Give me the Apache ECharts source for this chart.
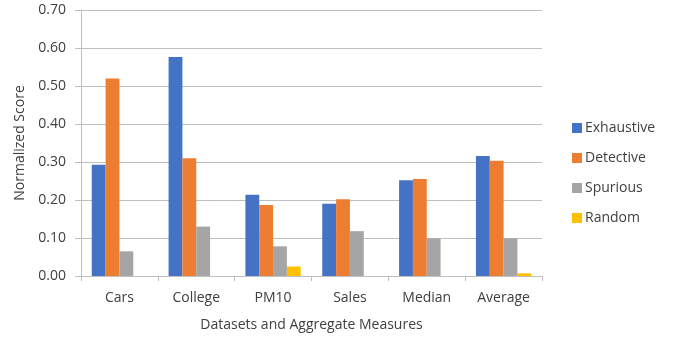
<!DOCTYPE html>
<html>
<head>
<meta charset="utf-8">
<script src="https://cdn.jsdelivr.net/npm/echarts@6/dist/echarts.min.js"></script>
<style>
  html, body { margin: 0; padding: 0; background: #fff; }
  #chart { width: 683px; height: 337px; }
</style>
</head>
<body>
<div id="chart"></div>
<script>
// Normalized scores per dataset, plus the aggregate measures
const categories = ['Cars', 'College', 'PM10', 'Sales', 'Median', 'Average'];
const exhaustive = [0.293, 0.576, 0.214, 0.190, 0.252, 0.316];
const detective  = [0.520, 0.310, 0.187, 0.202, 0.255, 0.303];
const spurious   = [0.065, 0.130, 0.078, 0.118, 0.099, 0.099];
const random     = [0.000, 0.000, 0.025, 0.000, 0.000, 0.007];

const seriesNames  = ['Exhaustive', 'Detective', 'Spurious', 'Random'];
const seriesValues = [exhaustive, detective, spurious, random];
const seriesColors = ['#4472C4', '#ED7D31', '#A5A5A5', '#FFC000'];

const FONT = 'Open Sans';
const TEXT = '#404040';

const chart = echarts.init(document.getElementById('chart'), null, { renderer: 'canvas' });

chart.setOption({
  animation: false,
  textStyle: { fontFamily: FONT },
  grid: { left: 81, right: 141, top: 10, bottom: 61, containLabel: false },
  legend: {
    orient: 'vertical',
    left: 567,
    top: 116,
    itemWidth: 10,
    itemHeight: 10,
    itemGap: 16,
    icon: 'rect',
    textStyle: { fontFamily: FONT, fontSize: 14, color: TEXT, padding: [0, 0, 0, -2] },
    data: seriesNames
  },
  xAxis: {
    type: 'category',
    data: categories,
    name: 'Datasets and Aggregate Measures',
    nameLocation: 'middle',
    nameGap: 42,
    nameTextStyle: { fontFamily: FONT, fontSize: 14, color: TEXT },
    axisLine: { show: true, lineStyle: { color: '#bfbfbf', width: 1 } },
    axisTick: { show: true, length: 5, lineStyle: { color: '#bfbfbf' } },
    axisLabel: { fontFamily: FONT, fontSize: 14, color: TEXT, margin: 15 },
    splitLine: { show: false }
  },
  yAxis: {
    type: 'value',
    min: 0,
    max: 0.7,
    interval: 0.1,
    name: 'Normalized Score',
    nameLocation: 'middle',
    nameGap: 51,
    nameTextStyle: { fontFamily: FONT, fontSize: 14, color: TEXT },
    axisLine: { show: true, lineStyle: { color: '#bfbfbf', width: 1 } },
    axisTick: { show: true, length: 6, lineStyle: { color: '#bfbfbf' } },
    axisLabel: {
      fontFamily: FONT, fontSize: 14, color: TEXT, margin: 15,
      formatter: v => v.toFixed(2)
    },
    splitLine: { show: true, lineStyle: { color: '#bfbfbf', width: 1 } }
  },
  series: seriesNames.map((name, i) => ({
    name,
    type: 'bar',
    data: seriesValues[i],
    barGap: '0%',
    barCategoryGap: '28%',
    itemStyle: { color: seriesColors[i] }
  }))
});
</script>
</body>
</html>
